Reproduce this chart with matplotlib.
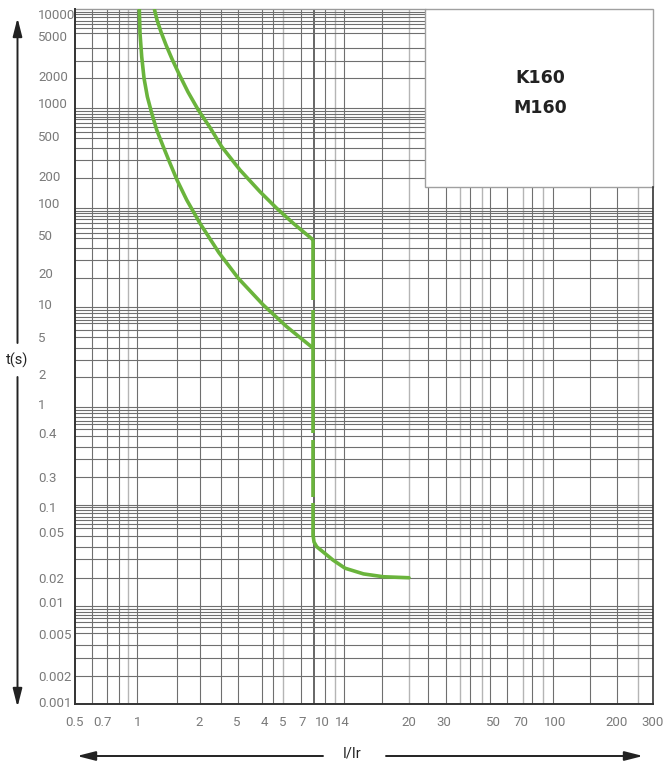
import numpy as np
import matplotlib
matplotlib.use("Agg")
import matplotlib.pyplot as plt
from matplotlib.patches import Rectangle
from matplotlib.ticker import NullLocator

# tick values and the labels printed under / beside them
x_ticks = [0.5, 0.7, 1, 2, 3, 4, 5, 7, 10, 14, 20, 30, 50, 70, 100, 200, 300]
x_labels = ["0.5", "0.7", "1", "2", "5", "4", "5", "7", "10", "14",
            "20", "30", "50", "70", "100", "200", "300"]
y_ticks = [0.001, 0.002, 0.005, 0.01, 0.02, 0.05, 0.1, 0.3, 0.4, 1, 2, 5,
           10, 20, 50, 100, 200, 500, 1000, 2000, 5000, 10000]
y_labels = ["0.001", "0.002", "0.005", "0.01", "0.02", "0.05", "0.1", "0.3",
            "0.4", "1", "2", "5", "10", "20", "50", "100", "200", "500",
            "1000", "2000", "5000", "10000"]

# trip curves (I/Ir, t in s)
lower_i = [1.015, 1.023, 1.043, 1.071, 1.112, 1.169, 1.237, 1.333, 1.439, 1.558,
           1.740, 2.021, 2.476, 3.042, 3.971, 5.339, 8.563]
lower_t = [11700, 5444, 3112, 1885, 1176, 805.5, 567.1, 391.3, 267.5, 180.5,
           108.0, 64.4, 32.55, 17.77, 9.79, 6.208, 3.78]
upper_i = [1.204, 1.241, 1.299, 1.375, 1.472, 1.594, 1.765, 1.984, 2.249, 2.548,
           3.098, 3.833, 4.643, 6.00, 8.563]
upper_t = [11700, 8278, 5671, 4068, 2952, 2094, 1326, 863, 597.7, 391.3,
           229.5, 133.6, 89.2, 64.4, 44.3]
magnetic_i = 8.563
magnetic_t = [(44.3, 10.94), (8.82, 0.4), (0.382, 0.144), (0.116, 0.0455)]
tail_i = [8.563, 8.67, 9.10, 12.03, 14.23, 15.7, 17.45, 20]
tail_t = [0.0455, 0.041, 0.0373, 0.0286, 0.0243, 0.0217, 0.0205, 0.0201]

# the paper grid is not a true log grid: tick values sit at fixed pixel columns/rows
W, H = 669, 765
LEFT, RIGHT, TOP, BOTTOM = 75, 653, 9, 704
x_pix = [75, 103, 138, 199, 237, 264, 283, 302, 322, 342, 409, 444, 493,
         521, 555, 617, 653]
y_vals = [0.00095] + y_ticks + [11700]
y_pix = [704, 702, 676, 634, 602, 578, 532, 507, 477, 433, 404, 374, 337,
         304, 273, 235, 203, 176, 136, 103, 76, 36, 14, 9]

vgrid_dark = [92, 107, 119, 137, 177, 200, 221, 238, 262, 273, 301, 325,
              344, 382, 428, 446, 470, 490, 507, 532, 553, 590, 617]
vgrid_light = [128, 283, 335, 409, 460, 482, 523, 543, 638]
hgrid = [11.7, 14, 16.7, 20.7, 24, 28.3, 33.3, 48.3, 61, 78.3,
         108, 111, 114, 117, 119.3, 123.3, 126.7, 131.7, 138.3, 148, 160, 178.3,
         208.3, 211, 213.3, 216, 219.3, 222.7, 228.3, 232.7, 238.3, 248.3, 260, 278.3,
         307.3, 310, 313.3, 316.7, 320, 323.3, 330, 337.3, 348.3, 360, 376.7,
         407.3, 410, 413.3, 416.7, 420.7, 424, 429, 435.7, 446.7, 459.3, 477.3,
         505, 507.3, 510, 513.3, 516.7, 520, 524, 528.3, 536, 546.7, 559.3, 577.7,
         606, 609, 611.7, 615, 618.3, 621.7, 626.7, 633.3, 645, 658.3, 675.7]
BOX_LEFT, BOX_BOTTOM = 425, 187.3

GREEN = "#6ab43c"
GRID_DARK = "#6f6f6f"
GRID_LIGHT = "#b5b5b5"


def piecewise_scale(vals, pos):
    lv = np.log10(vals)
    p = np.asarray(pos, float)

    def forward(v):
        v = np.clip(np.asarray(v, float), 1e-12, None)
        return np.interp(np.log10(v), lv, p)

    def inverse(q):
        return 10 ** np.interp(q, p, lv)

    return forward, inverse


def ax_x(px):
    return (px - LEFT) / (RIGHT - LEFT)


def ax_y(py):
    return (BOTTOM - py) / (BOTTOM - TOP)


plt.rcParams["font.family"] = ["Roboto", "DejaVu Sans"]
fig = plt.figure(figsize=(W / 100, H / 100), dpi=100)
ax = fig.add_axes([LEFT / W, (H - BOTTOM) / H, (RIGHT - LEFT) / W, (BOTTOM - TOP) / H])

ax.set_xscale("function", functions=piecewise_scale(x_ticks, x_pix))
ax.set_yscale("function", functions=piecewise_scale(y_vals, [-p for p in y_pix]))
ax.set_xlim(0.5, 300)
ax.set_ylim(0.00095, 11700)

# grid
for px in vgrid_dark:
    ax.plot([ax_x(px)] * 2, [0, 1], transform=ax.transAxes, color=GRID_DARK, lw=0.8, zorder=1)
for px in vgrid_light:
    ax.plot([ax_x(px)] * 2, [0, 1], transform=ax.transAxes, color=GRID_LIGHT, lw=1.0, zorder=1)
ax.plot([ax_x(314)] * 2, [0, 1], transform=ax.transAxes, color="#666666", lw=1.4, zorder=1)
for py in hgrid:
    ax.plot([0, 1], [ax_y(py)] * 2, transform=ax.transAxes, color=GRID_DARK, lw=0.8, zorder=1)

# title box
ax.add_patch(Rectangle((ax_x(BOX_LEFT), ax_y(BOX_BOTTOM)), 1 - ax_x(BOX_LEFT), 1 - ax_y(BOX_BOTTOM),
                       transform=ax.transAxes, facecolor="white", edgecolor="#a0a0a0",
                       lw=1.0, zorder=2, clip_on=False))
ax.text(ax_x(540), ax_y(78), "K160", transform=ax.transAxes, ha="center", va="center",
        fontsize=12.5, fontweight="bold", family="DejaVu Sans", color="#222222", zorder=3)
ax.text(ax_x(540), ax_y(108), "M160", transform=ax.transAxes, ha="center", va="center",
        fontsize=12.5, fontweight="bold", family="DejaVu Sans", color="#222222", zorder=3)

# curves
ax.plot(lower_i, lower_t, color=GREEN, lw=2.6, zorder=4, solid_capstyle="butt",
        solid_joinstyle="round")
ax.plot(upper_i, upper_t, color=GREEN, lw=2.6, zorder=4, solid_capstyle="butt",
        solid_joinstyle="round")
for t_hi, t_lo in magnetic_t:
    ax.plot([magnetic_i, magnetic_i], [t_hi, t_lo], color=GREEN, lw=2.6, zorder=4,
            solid_capstyle="butt")
ax.plot(tail_i, tail_t, color=GREEN, lw=2.6, zorder=4, solid_capstyle="round",
        solid_joinstyle="round")

# frame
for side in ["top", "right"]:
    ax.spines[side].set_visible(False)
for side in ["left", "bottom"]:
    ax.spines[side].set_color("#333333")
    ax.spines[side].set_linewidth(1.4)
ax.plot([0, ax_x(BOX_LEFT)], [1, 1], transform=ax.transAxes, color="#9a9a9a", lw=1.0,
        zorder=2, clip_on=False)
ax.plot([1, 1], [0, ax_y(BOX_BOTTOM)], transform=ax.transAxes, color="#333333", lw=1.2,
        zorder=2, clip_on=False)

# ticks
ax.set_xticks(x_ticks, x_labels)
ax.set_yticks(y_ticks, y_labels)
ax.xaxis.set_minor_locator(NullLocator())
ax.yaxis.set_minor_locator(NullLocator())
ax.tick_params(length=0, labelsize=9.5, labelcolor="#7a7a7a")
ax.tick_params(axis="x", pad=9)
ax.tick_params(axis="y", pad=26.5)
for lab in ax.get_yticklabels():
    lab.set_horizontalalignment("left")

# axis captions and arrows
arrow = dict(arrowstyle="-|>,head_length=1.1,head_width=0.28", color="#222222", lw=1.4,
             shrinkA=0, shrinkB=0)
ax.annotate("", xy=(17.5, H - 18), xytext=(17.5, H - 343), xycoords="figure pixels",
            textcoords="figure pixels", arrowprops=arrow, annotation_clip=False)
ax.annotate("", xy=(17.5, H - 707), xytext=(17.5, H - 377), xycoords="figure pixels",
            textcoords="figure pixels", arrowprops=arrow, annotation_clip=False)
ax.annotate("", xy=(77, H - 756), xytext=(323, H - 756), xycoords="figure pixels",
            textcoords="figure pixels", arrowprops=arrow, annotation_clip=False)
ax.annotate("", xy=(643, H - 756), xytext=(386, H - 756), xycoords="figure pixels",
            textcoords="figure pixels", arrowprops=arrow, annotation_clip=False)
fig.text(17 / W, 1 - 360 / H, "t(s)", ha="center", va="center", fontsize=10.5, color="#222222")
fig.text(352 / W, 1 - 753 / H, "I/Ir", ha="center", va="center", fontsize=10.5, color="#222222")

fig.savefig("out.png", dpi=100)
